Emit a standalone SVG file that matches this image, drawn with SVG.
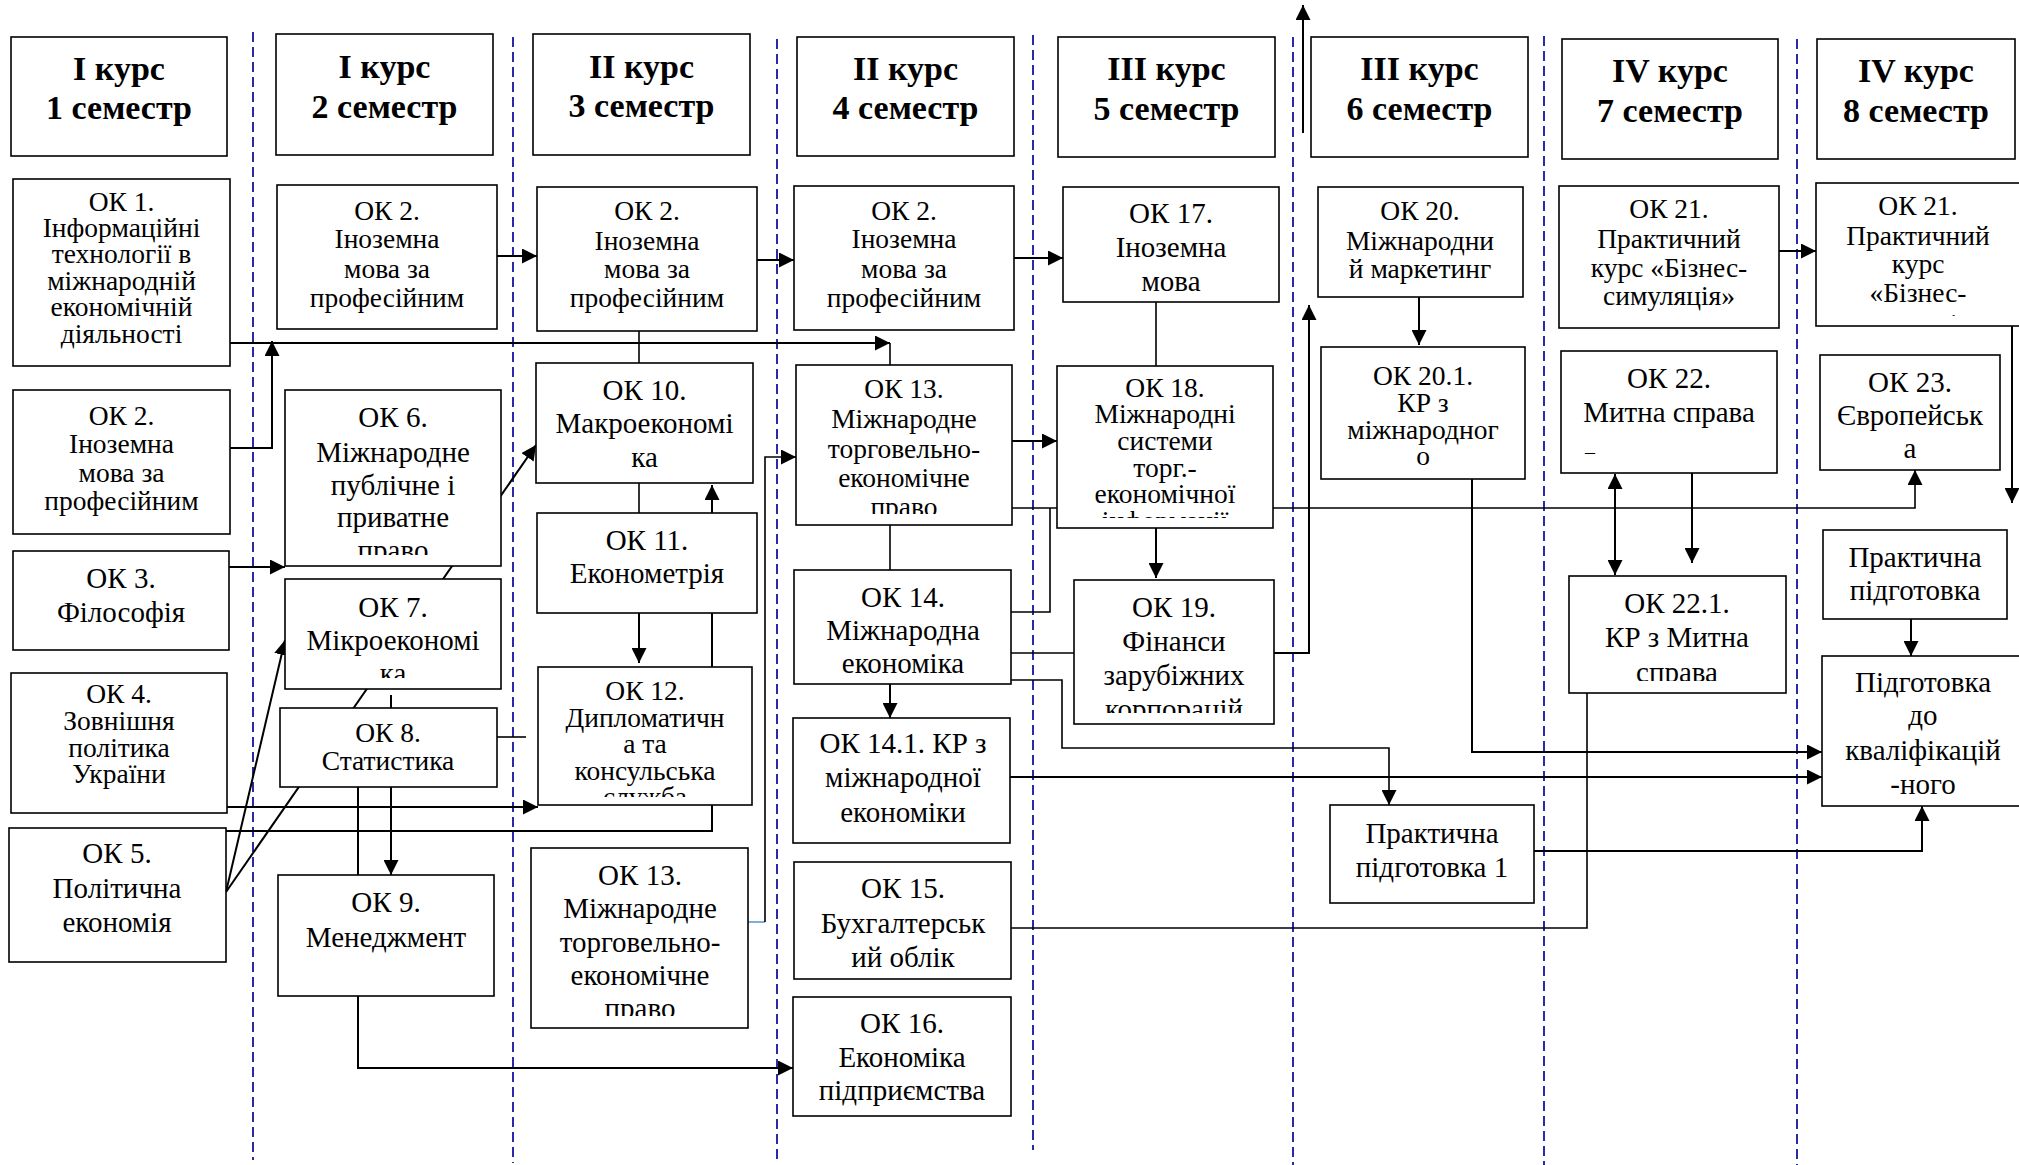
<svg xmlns="http://www.w3.org/2000/svg" width="2019" height="1165" viewBox="0 0 2019 1165">
<style>
.box{fill:#fff;stroke:#000;stroke-width:1.6}
.hd{font-family:"Liberation Serif","Times New Roman",serif;font-weight:bold;font-size:34px;text-anchor:middle;fill:#000}
.tx{font-family:"Liberation Serif","Times New Roman",serif;font-size:29px;text-anchor:middle;fill:#000}
.tt{font-size:27.5px}
.ln{fill:none;stroke:#000;stroke-width:1.6}
.ar{fill:none;stroke:#000;stroke-width:2;marker-end:url(#ah)}
.dash{stroke:#1414a0;stroke-width:1.8;stroke-dasharray:10 5}
</style>
<defs>
<marker id="ah" viewBox="0 0 10 10" refX="10" refY="5" markerWidth="15" markerHeight="15" markerUnits="userSpaceOnUse" orient="auto-start-reverse"><path d="M0,0 L10,5 L0,10 z" fill="#000"/></marker>
<clipPath id="c6"><rect x="285" y="390" width="216" height="165"/></clipPath>
<clipPath id="c7"><rect x="285" y="579" width="216" height="99"/></clipPath>
<clipPath id="c12"><rect x="538" y="667" width="214" height="130"/></clipPath>
<clipPath id="c13"><rect x="796" y="365" width="216" height="149"/></clipPath>
<clipPath id="c13b"><rect x="531" y="848" width="217" height="168"/></clipPath>
<clipPath id="c18"><rect x="1057" y="366" width="216" height="152"/></clipPath>
<clipPath id="c19"><rect x="1074" y="580" width="200" height="133"/></clipPath>
<clipPath id="c21b"><rect x="1816" y="183" width="208" height="133"/></clipPath>
<clipPath id="c221"><rect x="1569" y="576" width="217" height="105"/></clipPath>
</defs>
<rect x="0" y="0" width="2019" height="1165" fill="#fff"/>
<g id="dividers">
<line class="dash" x1="253" y1="32" x2="253" y2="1160"/>
<line class="dash" x1="513" y1="37" x2="513" y2="1163"/>
<line class="dash" x1="777" y1="39" x2="777" y2="1163"/>
<line class="dash" x1="1033" y1="35" x2="1033" y2="1150"/>
<line class="dash" x1="1293" y1="37" x2="1293" y2="1165"/>
<line class="dash" x1="1544" y1="36" x2="1544" y2="1165"/>
<line class="dash" x1="1797" y1="39" x2="1797" y2="1165"/>
</g>
<g id="connectors">
<path class="ar" d="M230,343 H890"/>
<path class="ln" d="M890,343 V365"/>
<path class="ar" d="M230,448 H272 V341"/>
<path class="ar" d="M497,256 H537"/>
<path class="ar" d="M757,260 H794"/>
<path class="ar" d="M1014,258 H1063"/>
<path class="ar" d="M1779,251 H1816"/>
<path class="ar" d="M229,567 H285"/>
<path class="ar" d="M226,892 L285,640"/>
<path class="ar" d="M226,892 L536,445"/>
<path class="ar" d="M391,695 V875"/>
<path class="ar" d="M358,787 V1068 H793"/>
<path class="ln" d="M497,737 H526"/>
<path class="ar" d="M227,807 H538"/>
<path class="ar" d="M226,831 H712 V485"/>
<path class="ln" d="M639,331 V513"/>
<path class="ar" d="M639,613 V663"/>
<path class="ln" d="M748,922 H765" style="stroke:#5b9bd5"/>
<path class="ar" d="M765,922 V457 H796" style="stroke-width:1.6"/>
<path class="ln" d="M890,525 V570"/>
<path class="ar" d="M890,684 V718"/>
<path class="ar" d="M1012,441 H1057"/>
<path class="ar" d="M1012,508 H1915 V470" style="stroke-width:1.6"/>
<path class="ln" d="M1011,612 H1050 V508"/>
<path class="ln" d="M1011,653 H1074"/>
<path class="ar" d="M1274,653 H1309 V305"/>
<path class="ar" d="M1011,680 H1062 V748 H1389 V805" style="stroke-width:1.6"/>
<path class="ar" d="M1010,777 H1822"/>
<path class="ar" d="M1472,479 V752 H1822"/>
<path class="ln" d="M1011,928 H1587 V693"/>
<path class="ar" d="M1534,851 H1922 V806"/>
<path class="ar" d="M1911,619 V656"/>
<path class="ar" d="M1615,474 V575" style="marker-start:url(#ah)"/>
<path class="ar" d="M1692,473 V563"/>
<path class="ar" d="M2012,326 V503"/>
<path class="ar" d="M1156,528 V578"/>
<path class="ln" d="M1156,302 V366"/>
<path class="ar" d="M1419,297 V345"/>
<path class="ar" d="M1303,133 V5"/>
</g>
<g id="h1"><rect class="box" x="11" y="37" width="216" height="119"/><text class="hd"><tspan x="119" y="80">I курс</tspan><tspan x="119" y="119">1 семестр</tspan></text></g>
<g id="h2"><rect class="box" x="276" y="34" width="217" height="121"/><text class="hd"><tspan x="384.5" y="78">I курс</tspan><tspan x="384.5" y="118">2 семестр</tspan></text></g>
<g id="h3"><rect class="box" x="533" y="34" width="217" height="121"/><text class="hd"><tspan x="641.5" y="78">II курс</tspan><tspan x="641.5" y="117">3 семестр</tspan></text></g>
<g id="h4"><rect class="box" x="797" y="37" width="217" height="119"/><text class="hd"><tspan x="905.5" y="80">II курс</tspan><tspan x="905.5" y="119">4 семестр</tspan></text></g>
<g id="h5"><rect class="box" x="1058" y="37" width="217" height="120"/><text class="hd"><tspan x="1166.5" y="80">III курс</tspan><tspan x="1166.5" y="120">5 семестр</tspan></text></g>
<g id="h6"><rect class="box" x="1311" y="37" width="217" height="120"/><text class="hd"><tspan x="1419.5" y="80">III курс</tspan><tspan x="1419.5" y="120">6 семестр</tspan></text></g>
<g id="h7"><rect class="box" x="1562" y="39" width="216" height="120"/><text class="hd"><tspan x="1670" y="82">IV курс</tspan><tspan x="1670" y="122">7 семестр</tspan></text></g>
<g id="h8"><rect class="box" x="1817" y="39" width="198" height="120"/><text class="hd"><tspan x="1916" y="82">IV курс</tspan><tspan x="1916" y="122">8 семестр</tspan></text></g>
<g id="ok1"><rect class="box" x="13" y="179" width="217" height="187"/><text class="tx tt"><tspan x="121.5" y="211">ОК 1.</tspan><tspan x="121.5" y="237">Інформаційні</tspan><tspan x="121.5" y="263">технології в</tspan><tspan x="121.5" y="290">міжнародній</tspan><tspan x="121.5" y="316">економічній</tspan><tspan x="121.5" y="343">діяльності</tspan></text></g>
<g id="ok2-s1"><rect class="box" x="13" y="390" width="217" height="144"/><text class="tx tt"><tspan x="121.5" y="425">ОК 2.</tspan><tspan x="121.5" y="453">Іноземна</tspan><tspan x="121.5" y="482">мова за</tspan><tspan x="121.5" y="510">професійним</tspan></text></g>
<g id="ok3"><rect class="box" x="13" y="551" width="216" height="99"/><text class="tx"><tspan x="121" y="588">ОК 3.</tspan><tspan x="121" y="622">Філософія</tspan></text></g>
<g id="ok4"><rect class="box" x="11" y="673" width="216" height="140"/><text class="tx tt"><tspan x="119" y="703">ОК 4.</tspan><tspan x="119" y="730">Зовнішня</tspan><tspan x="119" y="757">політика</tspan><tspan x="119" y="783">України</tspan></text></g>
<g id="ok5"><rect class="box" x="9" y="828" width="217" height="134"/><text class="tx"><tspan x="117" y="863">ОК 5.</tspan><tspan x="117" y="898">Політична</tspan><tspan x="117" y="932">економія</tspan></text></g>
<g id="ok2-s2"><rect class="box" x="277" y="185" width="220" height="144"/><text class="tx tt"><tspan x="387" y="220">ОК 2.</tspan><tspan x="387" y="248">Іноземна</tspan><tspan x="387" y="278">мова за</tspan><tspan x="387" y="307">професійним</tspan></text></g>
<g id="ok6"><rect class="box" x="285" y="390" width="216" height="176"/><text class="tx" clip-path="url(#c6)"><tspan x="393" y="427">ОК 6.</tspan><tspan x="393" y="462">Міжнародне</tspan><tspan x="393" y="495">публічне і</tspan><tspan x="393" y="527">приватне</tspan><tspan x="393" y="560">право</tspan></text></g>
<g id="ok7"><rect class="box" x="285" y="579" width="216" height="110"/><text class="tx" clip-path="url(#c7)"><tspan x="393" y="617">ОК 7.</tspan><tspan x="393" y="650">Мікроекономі</tspan><tspan x="393" y="683">ка</tspan></text></g>
<g id="ok8"><rect class="box" x="280" y="708" width="217" height="79"/><text class="tx tt"><tspan x="388" y="742">ОК 8.</tspan><tspan x="388" y="770">Статистика</tspan></text></g>
<g id="ok9"><rect class="box" x="278" y="875" width="216" height="121"/><text class="tx"><tspan x="386" y="912">ОК 9.</tspan><tspan x="386" y="947">Менеджмент</tspan></text></g>
<g id="ok2-s3"><rect class="box" x="537" y="187" width="220" height="144"/><text class="tx tt"><tspan x="647" y="220">ОК 2.</tspan><tspan x="647" y="250">Іноземна</tspan><tspan x="647" y="278">мова за</tspan><tspan x="647" y="307">професійним</tspan></text></g>
<g id="ok10"><rect class="box" x="536" y="363" width="217" height="120"/><text class="tx"><tspan x="644.5" y="400">ОК 10.</tspan><tspan x="644.5" y="433">Макроекономі</tspan><tspan x="644.5" y="467">ка</tspan></text></g>
<g id="ok11"><rect class="box" x="537" y="513" width="220" height="100"/><text class="tx"><tspan x="647" y="550">ОК 11.</tspan><tspan x="647" y="583">Економетрія</tspan></text></g>
<g id="ok12"><rect class="box" x="538" y="667" width="214" height="138"/><text class="tx tt" clip-path="url(#c12)"><tspan x="645" y="700">ОК 12.</tspan><tspan x="645" y="727">Дипломатичн</tspan><tspan x="645" y="753">а та</tspan><tspan x="645" y="780">консульська</tspan><tspan x="645" y="806">служба</tspan></text></g>
<g id="ok13-s3"><rect class="box" x="531" y="848" width="217" height="180"/><text class="tx" clip-path="url(#c13b)"><tspan x="640" y="885">ОК 13.</tspan><tspan x="640" y="918">Міжнародне</tspan><tspan x="640" y="952">торговельно-</tspan><tspan x="640" y="985">економічне</tspan><tspan x="640" y="1018">право</tspan></text></g>
<g id="ok2-s4"><rect class="box" x="794" y="186" width="220" height="144"/><text class="tx tt"><tspan x="904" y="220">ОК 2.</tspan><tspan x="904" y="248">Іноземна</tspan><tspan x="904" y="278">мова за</tspan><tspan x="904" y="307">професійним</tspan></text></g>
<g id="ok13"><rect class="box" x="796" y="365" width="216" height="160"/><text class="tx tt" clip-path="url(#c13)"><tspan x="904" y="398">ОК 13.</tspan><tspan x="904" y="428">Міжнародне</tspan><tspan x="904" y="458">торговельно-</tspan><tspan x="904" y="487">економічне</tspan><tspan x="904" y="516">право</tspan></text></g>
<g id="ok14"><rect class="box" x="794" y="570" width="217" height="114"/><text class="tx"><tspan x="903" y="607">ОК 14.</tspan><tspan x="903" y="640">Міжнародна</tspan><tspan x="903" y="673">економіка</tspan></text></g>
<g id="ok14-1"><rect class="box" x="793" y="718" width="217" height="125"/><text class="tx"><tspan x="903" y="753">ОК 14.1. КР з</tspan><tspan x="903" y="787">міжнародної</tspan><tspan x="903" y="822">економіки</tspan></text></g>
<g id="ok15"><rect class="box" x="794" y="862" width="217" height="117"/><text class="tx"><tspan x="903" y="898">ОК 15.</tspan><tspan x="903" y="933">Бухгалтерськ</tspan><tspan x="903" y="967">ий облік</tspan></text></g>
<g id="ok16"><rect class="box" x="793" y="997" width="218" height="119"/><text class="tx"><tspan x="902" y="1033">ОК 16.</tspan><tspan x="902" y="1067">Економіка</tspan><tspan x="902" y="1100">підприємства</tspan></text></g>
<g id="ok17"><rect class="box" x="1063" y="187" width="216" height="115"/><text class="tx"><tspan x="1171" y="223">ОК 17.</tspan><tspan x="1171" y="257">Іноземна</tspan><tspan x="1171" y="291">мова</tspan></text></g>
<g id="ok18"><rect class="box" x="1057" y="366" width="216" height="162"/><text class="tx tt" clip-path="url(#c18)"><tspan x="1165" y="397">ОК 18.</tspan><tspan x="1165" y="423">Міжнародні</tspan><tspan x="1165" y="450">системи</tspan><tspan x="1165" y="477">торг.-</tspan><tspan x="1165" y="503">економічної</tspan><tspan x="1165" y="530">інформації</tspan></text></g>
<g id="ok19"><rect class="box" x="1074" y="580" width="200" height="144"/><text class="tx" clip-path="url(#c19)"><tspan x="1174" y="617">ОК 19.</tspan><tspan x="1174" y="651">Фінанси</tspan><tspan x="1174" y="685">зарубіжних</tspan><tspan x="1174" y="719">корпорацій</tspan></text></g>
<g id="ok20"><rect class="box" x="1318" y="187" width="205" height="110"/><text class="tx tt"><tspan x="1420" y="220">ОК 20.</tspan><tspan x="1420" y="250">Міжнародни</tspan><tspan x="1420" y="278">й маркетинг</tspan></text></g>
<g id="ok20-1"><rect class="box" x="1321" y="347" width="204" height="132"/><text class="tx tt"><tspan x="1423" y="385">ОК 20.1.</tspan><tspan x="1423" y="412">КР з</tspan><tspan x="1423" y="439">міжнародног</tspan><tspan x="1423" y="465">о</tspan></text></g>
<g id="pp1"><rect class="box" x="1330" y="805" width="204" height="98"/><text class="tx"><tspan x="1432" y="843">Практична</tspan><tspan x="1432" y="877">підготовка 1</tspan></text></g>
<g id="ok21-s7"><rect class="box" x="1559" y="186" width="220" height="142"/><text class="tx tt"><tspan x="1669" y="218">ОК 21.</tspan><tspan x="1669" y="248">Практичний</tspan><tspan x="1669" y="277">курс «Бізнес-</tspan><tspan x="1669" y="305">симуляція»</tspan></text></g>
<g id="ok22"><rect class="box" x="1561" y="351" width="216" height="122"/><text class="tx"><tspan x="1669" y="388">ОК 22.</tspan><tspan x="1669" y="422">Митна справа</tspan><tspan x="1590" y="459" style="font-size:20px">–</tspan></text></g>
<g id="ok22-1"><rect class="box" x="1569" y="576" width="217" height="117"/><text class="tx" clip-path="url(#c221)"><tspan x="1677" y="613">ОК 22.1.</tspan><tspan x="1677" y="647">КР з Митна</tspan><tspan x="1677" y="682">справа</tspan></text></g>
<g id="ok21-s8"><rect class="box" x="1816" y="183" width="208" height="143"/><text class="tx tt" clip-path="url(#c21b)"><tspan x="1918" y="215">ОК 21.</tspan><tspan x="1918" y="245">Практичний</tspan><tspan x="1918" y="273">курс</tspan><tspan x="1918" y="302">«Бізнес-</tspan><tspan x="1918" y="333">симуляція»</tspan></text></g>
<g id="ok23"><rect class="box" x="1820" y="355" width="180" height="115"/><text class="tx"><tspan x="1910" y="392">ОК 23.</tspan><tspan x="1910" y="425">Європейськ</tspan><tspan x="1910" y="458">а</tspan></text></g>
<g id="pp"><rect class="box" x="1823" y="530" width="184" height="89"/><text class="tx"><tspan x="1915" y="567">Практична</tspan><tspan x="1915" y="600">підготовка</tspan></text></g>
<g id="kval"><rect class="box" x="1822" y="656" width="202" height="150"/><text class="tx"><tspan x="1923" y="692">Підготовка</tspan><tspan x="1923" y="725">до</tspan><tspan x="1923" y="760">кваліфікацій</tspan><tspan x="1923" y="794">-ного</tspan></text></g>
</svg>
